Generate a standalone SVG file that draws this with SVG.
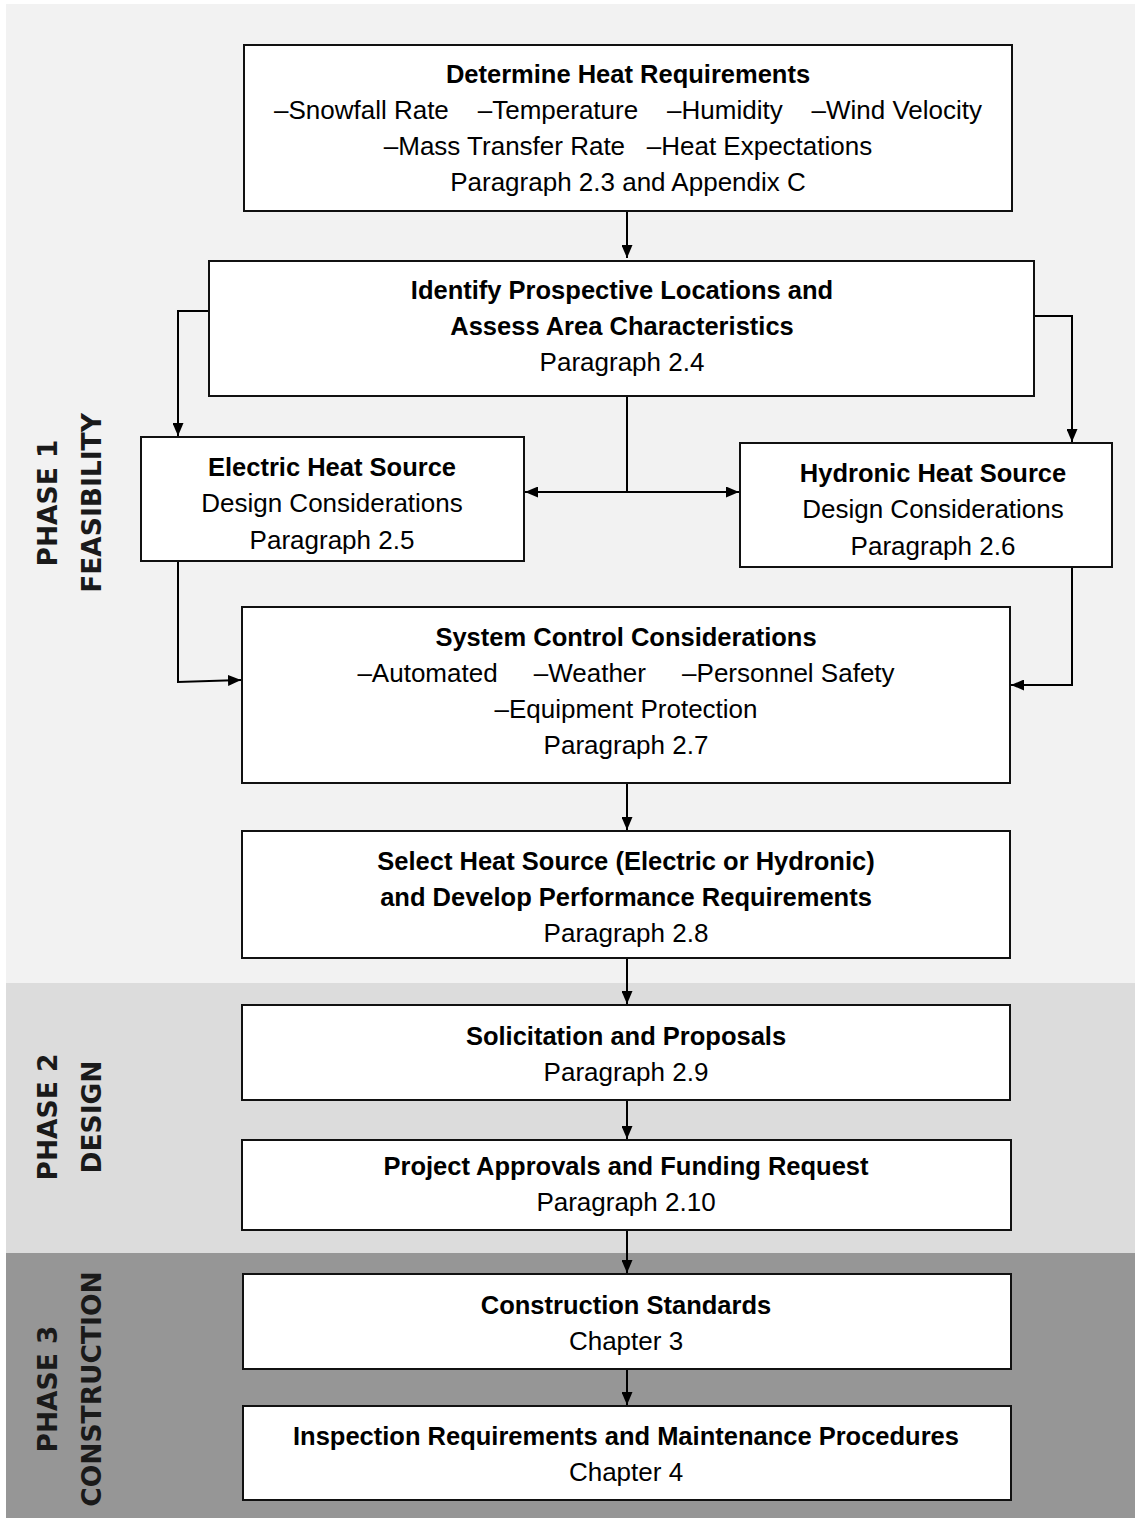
<svg xmlns="http://www.w3.org/2000/svg" width="1135" height="1518" viewBox="0 0 1135 1518">
<style>
.box{fill:#fff;stroke:#111;stroke-width:2}
.t{font-family:"Liberation Sans",Arial,sans-serif;font-size:26px;fill:#000;text-anchor:middle;white-space:pre}
.b{font-weight:bold;font-size:25.5px}
.ph{font-family:"DejaVu Sans","Liberation Sans",sans-serif;font-size:26.5px;font-weight:bold;fill:#1a1a1a;text-anchor:middle}
.c{fill:none;stroke:#000;stroke-width:2}
</style>
<defs>
<marker id="ah" viewBox="0 0 13 11" markerWidth="13" markerHeight="11" refX="13" refY="5.5" orient="auto" markerUnits="userSpaceOnUse">
<path d="M0,0 L13,5.5 L0,11 z" fill="#000"/>
</marker>
</defs>
<g id="background">
<rect x="6" y="4" width="1129" height="980" fill="#f2f2f2"/>
<rect x="6" y="983" width="1129" height="271" fill="#dcdcdc"/>
<rect x="6" y="1253" width="1129" height="265" fill="#969696"/>
</g>
<g id="phase-labels">
<g id="phase1"><text class="ph" transform="translate(57,503) rotate(-90)">PHASE 1</text><text class="ph" transform="translate(101,503) rotate(-90)">FEASIBILITY</text></g>
<g id="phase2"><text class="ph" transform="translate(57,1117) rotate(-90)">PHASE 2</text><text class="ph" transform="translate(101,1117) rotate(-90)">DESIGN</text></g>
<g id="phase3"><text class="ph" transform="translate(57,1389) rotate(-90)">PHASE 3</text><text class="ph" transform="translate(101,1389) rotate(-90)">CONSTRUCTION</text></g>
</g>
<g id="connectors">
<path class="c" d="M627,211 V258" marker-end="url(#ah)"/>
<path class="c" d="M209,311 H178 V436" marker-end="url(#ah)"/>
<path class="c" d="M1034,316 H1072 V442" marker-end="url(#ah)"/>
<path class="c" d="M627,396 V492"/>
<path class="c" d="M627,492 H525" marker-end="url(#ah)"/>
<path class="c" d="M627,492 H739" marker-end="url(#ah)"/>
<path class="c" d="M178,561 V682 L241,680" marker-end="url(#ah)"/>
<path class="c" d="M1072,567 V685 H1011" marker-end="url(#ah)"/>
<path class="c" d="M627,783 V830" marker-end="url(#ah)"/>
<path class="c" d="M627,958 V1004" marker-end="url(#ah)"/>
<path class="c" d="M627,1100 V1139" marker-end="url(#ah)"/>
<path class="c" d="M627,1230 V1273" marker-end="url(#ah)"/>
<path class="c" d="M627,1369 V1405" marker-end="url(#ah)"/>
</g>
<g id="n1"><rect class="box" x="244" y="45" width="768" height="166"/>
<text class="t b" x="628" y="83">Determine Heat Requirements</text>
<text class="t" x="628" y="119">–Snowfall Rate    –Temperature    –Humidity    –Wind Velocity</text>
<text class="t" x="628" y="155">–Mass Transfer Rate   –Heat Expectations</text>
<text class="t" x="628" y="191">Paragraph 2.3 and Appendix C</text></g>
<g id="n2"><rect class="box" x="209" y="261" width="825" height="135"/>
<text class="t b" x="622" y="299">Identify Prospective Locations and</text>
<text class="t b" x="622" y="335">Assess Area Characteristics</text>
<text class="t" x="622" y="371">Paragraph 2.4</text></g>
<g id="n3"><rect class="box" x="141" y="437" width="383" height="124"/>
<text class="t b" x="332" y="476">Electric Heat Source</text>
<text class="t" x="332" y="512">Design Considerations</text>
<text class="t" x="332" y="549">Paragraph 2.5</text></g>
<g id="n4"><rect class="box" x="740" y="443" width="372" height="124"/>
<text class="t b" x="933" y="482">Hydronic Heat Source</text>
<text class="t" x="933" y="518">Design Considerations</text>
<text class="t" x="933" y="555">Paragraph 2.6</text></g>
<g id="n5"><rect class="box" x="242" y="607" width="768" height="176"/>
<text class="t b" x="626" y="646">System Control Considerations</text>
<text class="t" x="626" y="682">–Automated     –Weather     –Personnel Safety</text>
<text class="t" x="626" y="718">–Equipment Protection</text>
<text class="t" x="626" y="754">Paragraph 2.7</text></g>
<g id="n6"><rect class="box" x="242" y="831" width="768" height="127"/>
<text class="t b" x="626" y="870">Select Heat Source (Electric or Hydronic)</text>
<text class="t b" x="626" y="906">and Develop Performance Requirements</text>
<text class="t" x="626" y="942">Paragraph 2.8</text></g>
<g id="n7"><rect class="box" x="242" y="1005" width="768" height="95"/>
<text class="t b" x="626" y="1045">Solicitation and Proposals</text>
<text class="t" x="626" y="1081">Paragraph 2.9</text></g>
<g id="n8"><rect class="box" x="242" y="1140" width="769" height="90"/>
<text class="t b" x="626" y="1175">Project Approvals and Funding Request</text>
<text class="t" x="626" y="1211">Paragraph 2.10</text></g>
<g id="n9"><rect class="box" x="243" y="1274" width="768" height="95"/>
<text class="t b" x="626" y="1314">Construction Standards</text>
<text class="t" x="626" y="1350">Chapter 3</text></g>
<g id="n10"><rect class="box" x="243" y="1406" width="768" height="94"/>
<text class="t b" x="626" y="1445">Inspection Requirements and Maintenance Procedures</text>
<text class="t" x="626" y="1481">Chapter 4</text></g>
</svg>
